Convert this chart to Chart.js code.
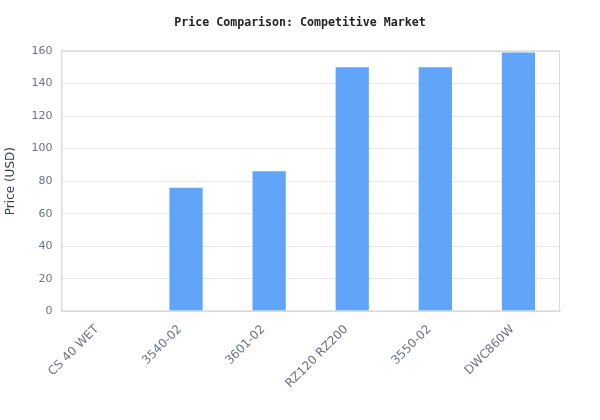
<!DOCTYPE html>
<html>
<head>
<meta charset="utf-8">
<script src="https://cdn.jsdelivr.net/npm/chart.js@4/dist/chart.umd.min.js"></script>
<style>
	html, body { margin: 0; padding: 0; background: #fff; }
	#wrap { width: 600px; height: 420px; }
</style>
</head>
<body>
<div id="wrap"><canvas id="chart"></canvas></div>
<script>
// chart data
const categories = ["CS 40 WET", "3540-02", "3601-02", "RZ120 RZ200", "3550-02", "DWC860W"];
const prices = [0, 76, 86, 150, 150, 159];
const yTicks = [0, 20, 40, 60, 80, 100, 120, 140, 160];

const titleText = "Price Comparison: Competitive Market";
const yAxisLabel = "Price (USD)";

Chart.defaults.font.family = "'DejaVu Sans', sans-serif";
Chart.defaults.animation = false;

const ctx = document.getElementById("chart");

new Chart(ctx, {
	type: "bar",
	data: {
		labels: categories,
		datasets: [{
			label: "Price",
			data: prices,
			backgroundColor: "#60a5fa",
			borderWidth: 0,
			barPercentage: 0.5,
			categoryPercentage: 0.8
		}]
	},
	options: {
		responsive: true,
		maintainAspectRatio: false,
		layout: { padding: { left: 0, right: 40, top: 6, bottom: 18 } },
		plugins: {
			legend: { display: false },
			tooltip: { enabled: false },
			title: {
				display: true,
				text: titleText,
				color: "#222",
				font: { family: "'DejaVu Sans Mono', monospace", size: 11.6, weight: "bold" },
				padding: { top: 10, bottom: 21 }
			}
		},
		scales: {
			x: {
				grid: { display: false, drawTicks: false },
				border: { color: "#d9d9d9" },
				ticks: {
					color: "#6b7280",
					font: { size: 12 },
					minRotation: 45,
					maxRotation: 45,
					padding: 11,
					labelOffset: -6
				}
			},
			y: {
				min: yTicks[0],
				max: yTicks[yTicks.length - 1],
				afterBuildTicks: axis => {
					axis.ticks = yTicks.map(v => ({ value: v }));
				},
				grid: { color: "#e5e7eb", drawTicks: false },
				border: { color: "#d9d9d9" },
				ticks: { color: "#6b7280", font: { size: 11 }, padding: 9 },
				title: {
					display: true,
					text: yAxisLabel,
					color: "#374151",
					font: { size: 12 }
				}
			}
		}
	},
	plugins: [{
		// keep the title centred on the whole canvas, not the padded area
		id: "centreTitle",
		afterLayout: chart => {
			const t = chart.titleBlock;
			if (!t) return;
			t.left = 0;
			t.right = chart.width;
			t.width = chart.width;
		}
	}, {
		id: "frame",
		afterDraw: chart => {
			const a = chart.chartArea;
			const c = chart.ctx;
			c.save();
			c.strokeStyle = "#d9d9d9";
			c.lineWidth = 1;
			c.strokeRect(a.left + 0.5, a.top + 0.5, a.right - a.left - 1, a.bottom - a.top - 1);
			c.restore();
		}
	}]
});
</script>
</body>
</html>
